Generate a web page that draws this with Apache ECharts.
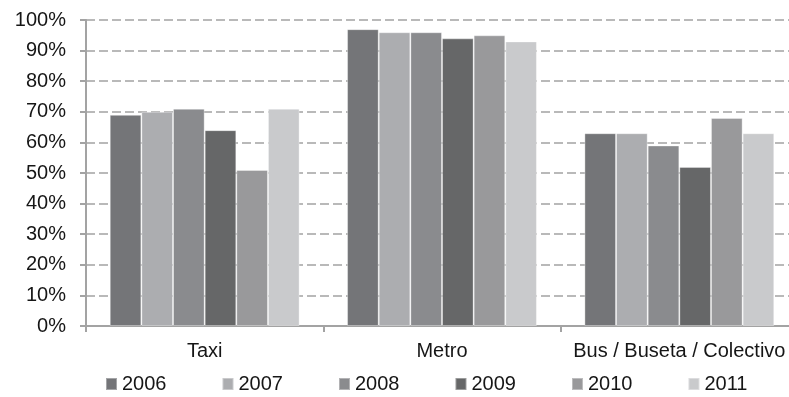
<!DOCTYPE html>
<html>
<head>
<meta charset="utf-8">
<script src="https://cdn.jsdelivr.net/npm/echarts@6/dist/echarts.min.js"></script>
<style>
  html, body { margin: 0; padding: 0; background: #fff; }
  #chart-container { width: 789px; height: 397px; }
</style>
</head>
<body>
<div id="chart-container"></div>
<script>
// categories and series values (percent)
const categories = ['Taxi', 'Metro', 'Bus / Buseta / Colectivo'];
const years = ['2006', '2007', '2008', '2009', '2010', '2011'];
const v2006 = [69, 97, 63];
const v2007 = [70, 96, 63];
const v2008 = [71, 96, 59];
const v2009 = [64, 94, 52];
const v2010 = [51, 95, 68];
const v2011 = [71, 93, 63];
const yTicks = [0, 10, 20, 30, 40, 50, 60, 70, 80, 90, 100];

const values = [v2006, v2007, v2008, v2009, v2010, v2011];
const colors = ['#747578', '#acadb0', '#8a8b8e', '#666768', '#99999b', '#c9cacc'];
const textStyle = { fontFamily: 'Liberation Sans, Arial, sans-serif', fontSize: 20, color: '#161616' };

const chart = echarts.init(document.querySelector('#chart-container'), null, { renderer: 'canvas' });

chart.setOption({
    animation: false,
    color: colors,
    // the plot runs past the right edge of the picture, as in the source
    grid: { left: 86, width: 712, top: 20, bottom: 71, outerBoundsMode: 'none' },
    legend: {
        data: years,
        left: 105,
        top: 374,
        padding: 0,
        itemWidth: 11,
        itemHeight: 12,
        itemGap: 55,
        icon: 'rect',
        textStyle: textStyle
    },
    xAxis: {
        type: 'category',
        data: categories,
        axisLine: { lineStyle: { color: '#a3a3a3', width: 2 } },
        axisTick: { show: true, length: 6, lineStyle: { color: '#a3a3a3', width: 2 } },
        axisLabel: Object.assign({ margin: 15, interval: 0 }, textStyle)
    },
    yAxis: {
        type: 'value',
        min: yTicks[0],
        max: yTicks[yTicks.length - 1],
        interval: 10,
        axisLine: { show: true, lineStyle: { color: '#a3a3a3', width: 2 } },
        axisTick: { show: true, length: 6, lineStyle: { color: '#a3a3a3', width: 2 } },
        axisLabel: Object.assign({ margin: 20, formatter: '{value}%' }, textStyle),
        splitLine: { lineStyle: { color: '#a3a3a3', width: 1.5, type: [9, 4] } }
    },
    series: years.map(function (y, i) {
        return {
            name: y,
            type: 'bar',
            data: values[i],
            barGap: '0%',
            barCategoryGap: '20%',
            itemStyle: { borderColor: 'rgba(255,255,255,0.35)', borderWidth: 1 }
        };
    })
});
</script>
</body>
</html>
